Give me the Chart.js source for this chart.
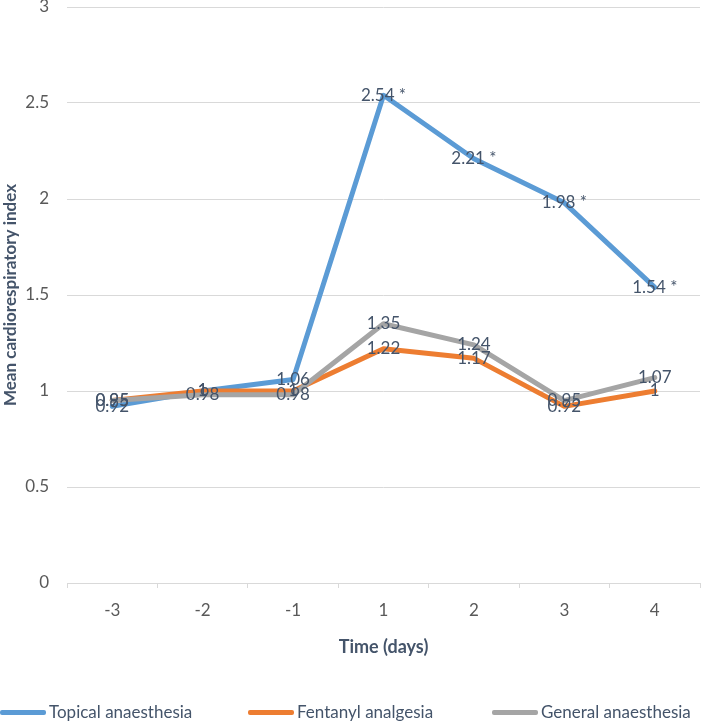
<!DOCTYPE html>
<html>
<head>
<meta charset="utf-8">
<script src="https://cdn.jsdelivr.net/npm/chart.js@4"></script>
<style>
  body { margin: 0; background: #fff; }
  #wrap { position: relative; width: 701px; height: 723px; }
  #legend { position: absolute; left: 0; top: 701px; width: 701px; height: 22px; font: 17px Lato, sans-serif; color: #44546a; }
  .item { position: absolute; top: 0; height: 22px; line-height: 22px; white-space: nowrap; display: flex; align-items: center; }
  .swatch { display: inline-block; width: 46px; height: 5px; border-radius: 2px; margin-right: 3px; }
</style>
</head>
<body>
<div id="wrap">
  <canvas id="chart" width="701" height="723"></canvas>
  <div id="legend"></div>
</div>
<script>
// data
const days = ["-3", "-2", "-1", "1", "2", "3", "4"];
const topical = [0.92, 1.00, 1.06, 2.54, 2.21, 1.98, 1.54];
const topicalMarks = ["", "", "", " *", " *", " *", " *"];
const fentanyl = [0.95, 1.00, 1.00, 1.22, 1.17, 0.92, 1.00];
const general = [0.95, 0.98, 0.98, 1.35, 1.24, 0.95, 1.07];

const seriesNames = ["Topical anaesthesia", "Fentanyl analgesia", "General anaesthesia"];
const seriesColors = ["#5b9bd5", "#ed7d31", "#a5a5a5"];
const legendLeft = [0, 248, 492];

const textColor = "#44546a";
const tickColor = "#595959";
const gridColor = "#d9d9d9";

// draws the value of every point centred on it (like Excel "center" labels)
const valueLabels = {
    id: "valueLabels",
    afterDatasetsDraw(chart) {
        const ctx = chart.ctx;
        ctx.save();
        ctx.font = "17px Lato, sans-serif";
        ctx.fillStyle = textColor;
        ctx.textAlign = "center";
        ctx.textBaseline = "middle";
        chart.data.datasets.forEach((ds, i) => {
            const meta = chart.getDatasetMeta(i);
            meta.data.forEach((pt, j) => {
                const txt = String(ds.data[j]) + (ds.marks ? ds.marks[j] : "");
                ctx.fillText(txt, pt.x, pt.y);
            });
        });
        ctx.restore();
    }
};

function lineSet(i, values, order) {
    return {
        label: seriesNames[i],
        data: values,
        borderColor: seriesColors[i],
        backgroundColor: seriesColors[i],
        borderWidth: 5,
        borderCapStyle: "round",
        borderJoinStyle: "round",
        pointRadius: 0,
        tension: 0,
        order: order
    };
}

const datasets = [
    Object.assign(lineSet(0, topical, 2), { marks: topicalMarks }),
    lineSet(1, fentanyl, 1),
    lineSet(2, general, 0)
];

new Chart(document.getElementById("chart"), {
    type: "line",
    data: { labels: days, datasets: datasets },
    plugins: [valueLabels],
    options: {
        responsive: false,
        animation: false,
        events: [],
        layout: { padding: { top: 7, right: 1, left: 0, bottom: 0 } },
        plugins: {
            legend: { display: false },
            tooltip: { enabled: false }
        },
        scales: {
            x: {
                offset: true,
                grid: {
                    offset: true,
                    drawOnChartArea: false,
                    drawTicks: true,
                    tickLength: 5,
                    color: gridColor
                },
                border: { color: gridColor },
                ticks: { color: tickColor, font: { family: "Lato", size: 17 }, padding: 12 },
                title: {
                    display: true,
                    text: "Time (days)",
                    color: textColor,
                    font: { family: "Lato", size: 18, weight: "bold" },
                    padding: { top: 0, bottom: 65 }
                },
                afterFit: (s) => { s.height = 140; s.paddingLeft = 0; s.paddingRight = 0; }
            },
            y: {
                min: 0,
                max: 3,
                ticks: {
                    stepSize: 0.5,
                    color: tickColor,
                    font: { family: "Lato", size: 17 },
                    padding: 18,
                    callback: (v) => String(v)
                },
                grid: { color: gridColor, drawTicks: false },
                border: { display: false },
                title: {
                    display: true,
                    text: "Mean cardiorespiratory index",
                    color: textColor,
                    font: { family: "Lato", size: 17, weight: "bold" },
                    padding: 0
                },
                afterFit: (s) => { s.width = 67; s.paddingTop = 0; s.paddingBottom = 0; }
            }
        }
    }
});

// legend below the plot
const legend = document.getElementById("legend");
seriesNames.forEach((name, i) => {
    const item = document.createElement("div");
    item.className = "item";
    item.style.left = legendLeft[i] + "px";
    item.innerHTML = `<span class="swatch" style="background:${seriesColors[i]}"></span><span>${name}</span>`;
    legend.appendChild(item);
});
</script>
</body>
</html>
